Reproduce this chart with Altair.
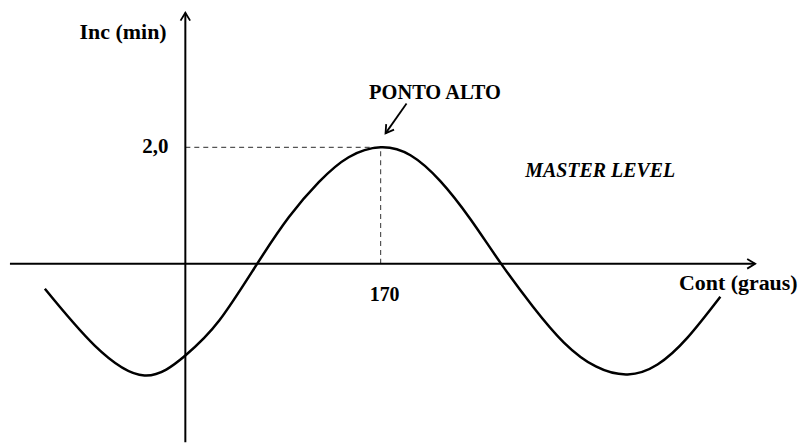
import altair as alt
import pandas as pd

# curve (degrees, min)
cont = [-122.3, -78.9, -35.6, 0.0, 29.5, 62.5, 90.2, 116.2, 142.2, 170.0,
        196.0, 222.0, 248.1, 275.0, 302.7, 329.6, 357.4, 385.1, 411.1, 437.2, 465.8]
inc = [-0.427, -1.402, -1.915, -1.573, -0.974, 0.0, 0.803, 1.402, 1.829, 2.0,
       1.863, 1.419, 0.769, 0.0, -0.735, -1.350, -1.761, -1.897, -1.726, -1.265, -0.564]

peak_x = 170
peak_y = 2.0

labels_bold = ["Inc (min)", "PONTO ALTO", "170", "Cont (graus)"]
labels_bold_x = [-54.2, 217.3, 173.5, 481.4]
labels_bold_y = [3.983, 2.923, -0.530, -0.325]
labels_bold_size = [22, 20.5, 20, 22]

XD = [-154.4, 530.8]
YD = [-3.06, 4.376]
FONT = "Liberation Serif, Times New Roman, serif"

xs = alt.Scale(domain=XD, nice=False, zero=False)
ys = alt.Scale(domain=YD, nice=False, zero=False)

curve_df = pd.DataFrame({"x": cont, "y": inc})
curve = alt.Chart(curve_df).mark_line(
    interpolate="natural", color="black", strokeWidth=2.5, clip=True
).encode(x=alt.X("x:Q", scale=xs, axis=None), y=alt.Y("y:Q", scale=ys, axis=None))

# axes lines
axes_df = pd.DataFrame({
    "x": [-152.7, 0.0], "x2": [496.1, 0.0],
    "y": [0.0, -3.06], "y2": [0.0, 4.31],
})
axes = alt.Chart(axes_df).mark_rule(color="black", strokeWidth=2).encode(
    x=alt.X("x:Q", scale=xs, axis=None), x2="x2:Q",
    y=alt.Y("y:Q", scale=ys, axis=None), y2="y2:Q",
)

# arrow heads
heads_df = pd.DataFrame({"x": [496.1, 0.0, 174.3], "y": [0.0, 4.31, 2.239], "a": [0, 270, 125]})
heads = alt.Chart(heads_df).mark_point(
    shape="M-1,-0.6L0,0L-1,0.6", filled=False, stroke="black", strokeWidth=1.8,
    size=256, opacity=1,
).encode(
    x=alt.X("x:Q", scale=xs, axis=None), y=alt.Y("y:Q", scale=ys, axis=None),
    angle=alt.Angle("a:Q", scale=None),
)

# PONTO ALTO pointer line
ptr_df = pd.DataFrame({"x": [192.6], "x2": [174.3], "y": [2.752], "y2": [2.239]})
ptr = alt.Chart(ptr_df).mark_rule(color="black", strokeWidth=1.8).encode(
    x=alt.X("x:Q", scale=xs, axis=None), x2="x2:Q",
    y=alt.Y("y:Q", scale=ys, axis=None), y2="y2:Q",
)

# dashed guides
dash_df = pd.DataFrame({"x": [0.0, peak_x], "x2": [peak_x, peak_x], "y": [peak_y, 0.0], "y2": [peak_y, peak_y]})
dash = alt.Chart(dash_df).mark_rule(color="#555555", strokeWidth=1.2, strokeDash=[5, 4]).encode(
    x=alt.X("x:Q", scale=xs, axis=None), x2="x2:Q",
    y=alt.Y("y:Q", scale=ys, axis=None), y2="y2:Q",
)

txt_df = pd.DataFrame({"t": labels_bold, "x": labels_bold_x, "y": labels_bold_y, "s": labels_bold_size})
txt = alt.Chart(txt_df).mark_text(
    font=FONT, fontWeight="bold", color="black",
    align="center", baseline="middle",
).encode(x=alt.X("x:Q", scale=xs, axis=None), y=alt.Y("y:Q", scale=ys, axis=None), text="t:N",
         size=alt.Size("s:Q", scale=None))

tick_df = pd.DataFrame({"t": ["2,0"], "x": [-14.7], "y": [peak_y]})
tick = alt.Chart(tick_df).mark_text(
    font=FONT, fontWeight="bold", fontSize=21, color="black",
    align="right", baseline="middle",
).encode(x=alt.X("x:Q", scale=xs, axis=None), y=alt.Y("y:Q", scale=ys, axis=None), text="t:N")

ml_df = pd.DataFrame({"t": ["MASTER LEVEL"], "x": [361.2], "y": [1.590]})
ml = alt.Chart(ml_df).mark_text(
    font=FONT, fontWeight="bold", fontStyle="italic", fontSize=20, color="black",
    align="center", baseline="middle",
).encode(x=alt.X("x:Q", scale=xs, axis=None), y=alt.Y("y:Q", scale=ys, axis=None), text="t:N")

chart = alt.layer(dash, axes, curve, heads, ptr, txt, tick, ml).properties(
    width=790, height=435, padding=0
).configure_view(stroke=None)

chart.save("out.html", embed_options={"renderer": "svg", "actions": False})
